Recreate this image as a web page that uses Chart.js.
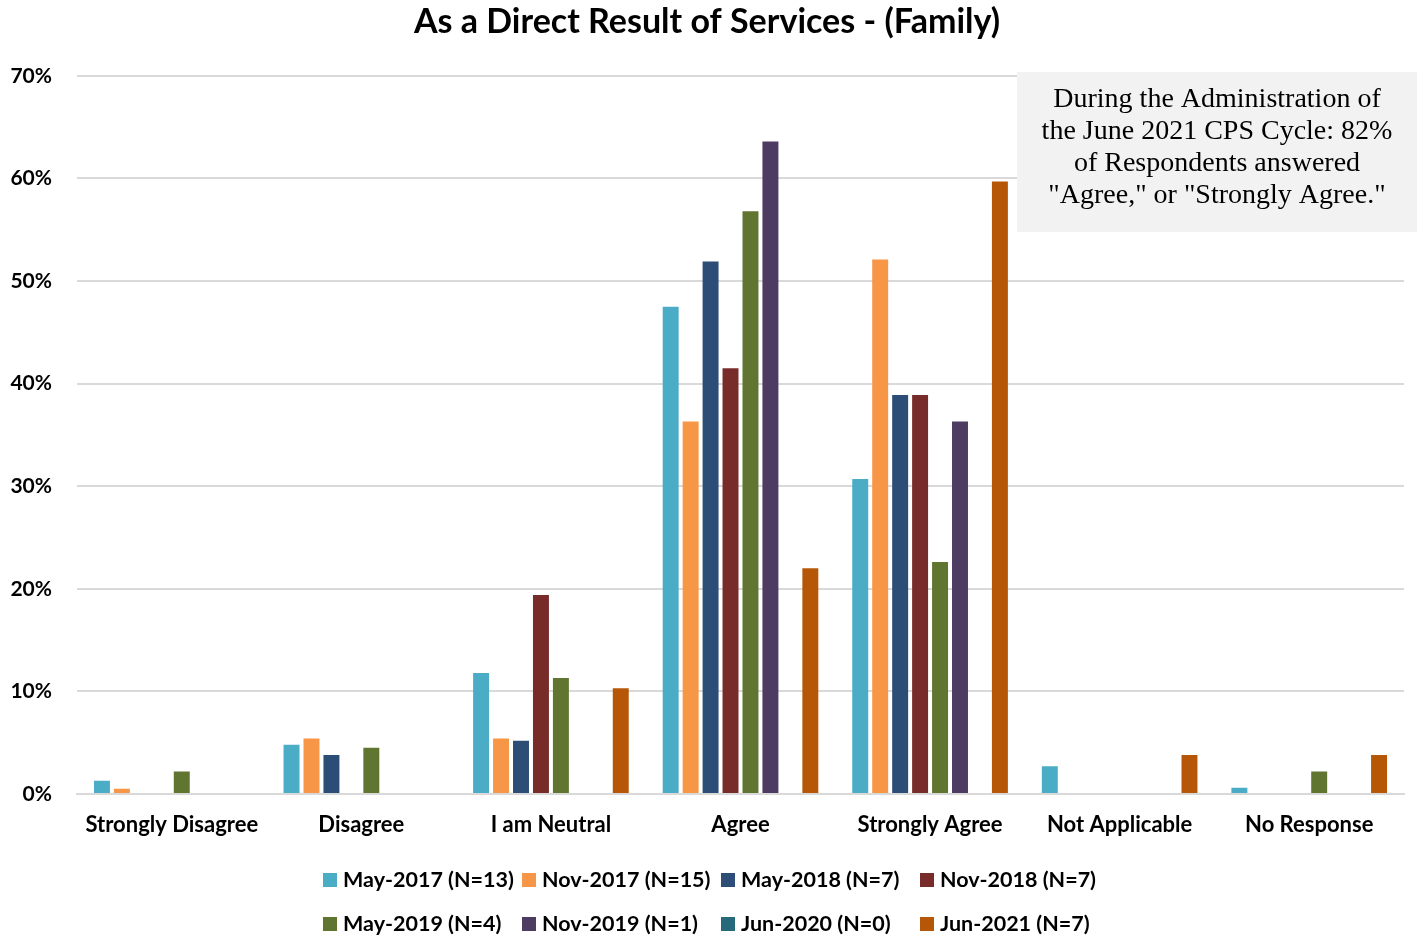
<!DOCTYPE html>
<html>
<head>
<meta charset="utf-8">
<script src="https://cdn.jsdelivr.net/npm/chart.js@4/dist/chart.umd.min.js"></script>
<style>
  html, body { margin: 0; padding: 0; background: #fff; }
  #wrap { width: 1426px; height: 939px; position: relative; }
</style>
</head>
<body>
<div id="wrap"><canvas id="canvas"></canvas></div>
<script>
var categories = ["Strongly Disagree", "Disagree", "I am Neutral", "Agree", "Strongly Agree", "Not Applicable", "No Response"];

// percent of respondents per answer, one array per survey cycle
var may2017 = [1.3, 4.8, 11.8, 47.5, 30.7, 2.7, 0.6];
var nov2017 = [0.5, 5.4, 5.4, 36.3, 52.1, null, null];
var may2018 = [null, 3.8, 5.2, 51.9, 38.9, null, null];
var nov2018 = [null, null, 19.4, 41.5, 38.9, null, null];
var may2019 = [2.2, 4.5, 11.3, 56.8, 22.6, null, 2.2];
var nov2019 = [null, null, null, 63.6, 36.3, null, null];
var jun2020 = [null, null, null, null, null, null, null];
var jun2021 = [null, null, 10.3, 22.0, 59.7, 3.8, 3.8];

var seriesNames = ["May-2017 (N=13)", "Nov-2017 (N=15)", "May-2018 (N=7)", "Nov-2018 (N=7)",
                   "May-2019 (N=4)", "Nov-2019 (N=1)", "Jun-2020 (N=0)", "Jun-2021 (N=7)"];
var seriesData = [may2017, nov2017, may2018, nov2018, may2019, nov2019, jun2020, jun2021];
var colors = ["#4BACC6", "#F79646", "#2C4D75", "#772C2A", "#5F7530", "#4D3B62", "#276A7C", "#B65708"];

var noteLines = ["During the Administration of", "the June 2021 CPS Cycle: 82%",
                 "of Respondents answered", "\"Agree,\" or \"Strongly Agree.\""];

var boldFont = "Lato";

// note box in the top right corner
var notePlugin = {
  id: "note",
  afterDatasetsDraw: function (chart) {
    var ctx = chart.ctx;
    ctx.save();
    ctx.fillStyle = "#F2F2F2";
    ctx.fillRect(1017, 72, 400, 160);
    ctx.fillStyle = "#000";
    ctx.font = "28px 'Liberation Serif'";
    ctx.textAlign = "center";
    ctx.textBaseline = "middle";
    noteLines.forEach(function (line, i) {
      ctx.fillText(line, 1217, 100 + i * 32);
    });
    ctx.restore();
  },
};

// legend in two rows of four, like the original
var legendPlugin = {
  id: "legendRows",
  afterDraw: function (chart) {
    var ctx = chart.ctx;
    ctx.save();
    ctx.font = "bold 21.5px " + boldFont;
    ctx.textBaseline = "middle";
    ctx.textAlign = "left";
    for (var i = 0; i < seriesNames.length; i++) {
      var col = i % 4;
      var row = Math.floor(i / 4);
      var x = 323 + col * 199;
      var y = 880 + row * 44;
      ctx.fillStyle = colors[i];
      ctx.fillRect(x, y - 7, 14, 14);
      ctx.fillStyle = "#000";
      ctx.fillText(seriesNames[i], x + 20, y);
    }
    ctx.restore();
  },
};

var datasets = [];
for (var i = 0; i < seriesNames.length; i++) {
  datasets.push({
    label: seriesNames[i],
    data: seriesData[i],
    backgroundColor: colors[i],
    borderWidth: 0,
    categoryPercentage: 0.842,
    barPercentage: 0.8,
  });
}

const config = {
  type: "bar",
  data: { labels: categories, datasets: datasets },
  plugins: [notePlugin, legendPlugin],
  options: {
    responsive: true,
    maintainAspectRatio: false,
    animation: false,
    layout: { padding: { left: 10, right: 22, top: 0, bottom: 101 } },
    plugins: {
      legend: { display: false },
      tooltip: { enabled: false },
      title: {
        display: true,
        text: "As a Direct Result of Services - (Family)",
        color: "#000",
        font: { family: boldFont, size: 34, weight: "bold" },
        padding: { top: 2, bottom: 33 },
      },
    },
    scales: {
      x: {
        grid: { display: false, drawTicks: false },
        border: { display: true, color: "#D9D9D9", width: 2 },
        ticks: {
          color: "#000",
          font: { family: boldFont, size: 22, weight: "bold" },
          padding: 18,
          maxRotation: 0,
        },
        afterFit: function (scale) { scale.height = 44; },
      },
      y: {
        min: 0,
        max: 70,
        grid: { color: "#D9D9D9", lineWidth: 2, drawTicks: false },
        border: { display: false },
        ticks: {
          stepSize: 10,
          color: "#000",
          font: { family: boldFont, size: 21, weight: "bold" },
          padding: 25,
          callback: function (v) { return v + "%"; },
        },
        afterFit: function (scale) { scale.width = 67; },
      },
    },
  },
};
const myChart = new Chart(document.getElementById("canvas"), config);
</script>
</body>
</html>
